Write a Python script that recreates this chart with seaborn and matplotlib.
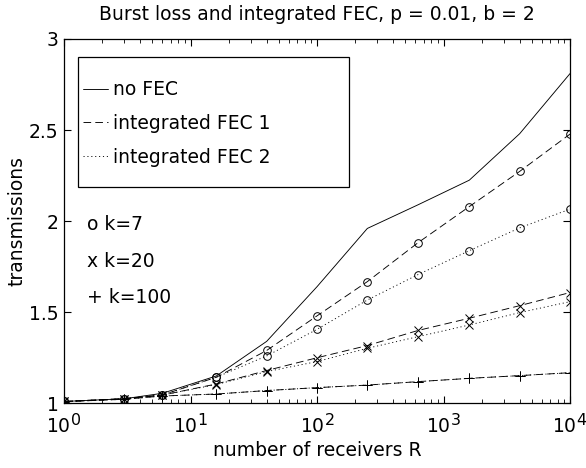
import matplotlib
matplotlib.use("Agg")
import matplotlib.pyplot as plt
import numpy as np
import pandas as pd
import seaborn as sns
from matplotlib.lines import Line2D
from matplotlib.patches import Rectangle
from matplotlib.ticker import FixedLocator, FuncFormatter, LogLocator, NullFormatter

try:
    import matplotlib._mathtext as _mt
    _mt.SHRINK_FACTOR = 0.85
except Exception:
    pass

# ---------------- data ----------------
receivers = [1, 3, 6, 16, 40, 100, 250, 630, 1600, 4000, 10000]

no_fec = [1.01, 1.025, 1.055, 1.15, 1.34, 1.64, 1.96, 2.09, 2.225, 2.48, 2.81]

fec1_k7 = [1.01, 1.025, 1.046, 1.143, 1.29, 1.48, 1.668, 1.882, 2.08, 2.273, 2.478]
fec2_k7 = [1.01, 1.025, 1.046, 1.143, 1.26, 1.406, 1.567, 1.707, 1.838, 1.963, 2.066]

fec1_k20 = [1.01, 1.025, 1.045, 1.106, 1.18, 1.25, 1.317, 1.40, 1.467, 1.536, 1.608]
fec2_k20 = [1.01, 1.025, 1.045, 1.103, 1.174, 1.229, 1.302, 1.366, 1.43, 1.498, 1.558]

fec1_k100 = [1.009, 1.022, 1.04, 1.051, 1.07, 1.086, 1.10, 1.119, 1.137, 1.152, 1.168]
fec2_k100 = [1.009, 1.022, 1.04, 1.051, 1.07, 1.086, 1.10, 1.119, 1.137, 1.152, 1.168]

y_ticks = [1, 1.5, 2, 2.5, 3]
legend_labels = ["no FEC", "integrated FEC 1", "integrated FEC 2"]
k_notes = ["o k=7", "x k=20", "+ k=100"]
title = "Burst loss and integrated FEC, p = 0.01, b = 2"
x_label = "number of receivers R"
y_label = "transmissions"

series = {
    "no FEC": no_fec,
    "FEC1 k=7": fec1_k7,
    "FEC2 k=7": fec2_k7,
    "FEC1 k=20": fec1_k20,
    "FEC2 k=20": fec2_k20,
    "FEC1 k=100": fec1_k100,
    "FEC2 k=100": fec2_k100,
}
df = pd.concat(
    [pd.DataFrame({"R": receivers, "transmissions": v, "series": k}) for k, v in series.items()],
    ignore_index=True,
)

# ---------------- style ----------------
sns.set_theme(style="ticks")
FS = 13.5
plt.rcParams.update({
    "font.family": ["DejaVu Sans"],
    "font.size": FS,
    "text.color": "black",
    "axes.labelcolor": "black",
    "xtick.color": "black",
    "ytick.color": "black",
    "axes.edgecolor": "black",
    "axes.linewidth": 0.9,
    "lines.scale_dashes": False,
    "mathtext.fontset": "dejavusans",
    "mathtext.default": "regular",
})

DASH = (0, (5.5, 3.0))
DOT = (0, (0.8, 2.0))

styles = {
    "no FEC": dict(linestyle="-", marker=None, ms=0),
    "FEC1 k=7": dict(linestyle=DASH, marker="o", ms=5.5),
    "FEC2 k=7": dict(linestyle=DOT, marker="o", ms=5.5),
    "FEC1 k=20": dict(linestyle=DASH, marker="x", ms=6),
    "FEC2 k=20": dict(linestyle=DOT, marker="x", ms=6),
    "FEC1 k=100": dict(linestyle=DASH, marker="+", ms=6.5),
    "FEC2 k=100": dict(linestyle=DOT, marker="+", ms=6.5),
}

fig = plt.figure(figsize=(5.86, 4.68), dpi=100)
ax = fig.add_axes([64 / 586, (468 - 403.3) / 468, (570 - 64) / 586, (403.3 - 39) / 468])
ax.set_xscale("log")

for name, st in styles.items():
    sub = df[df["series"] == name]
    kw = dict(color="black", linewidth=0.65, linestyle=st["linestyle"])
    if st["marker"]:
        kw.update(marker=st["marker"], markersize=st["ms"], markerfacecolor="none",
                  markeredgecolor="black", markeredgewidth=0.7)
    sns.lineplot(data=sub, x="R", y="transmissions", ax=ax, errorbar=None,
                 legend=False, **kw)

ax.set_xlim(1, 10000)
ax.set_ylim(1, 3)

ax.xaxis.set_major_locator(LogLocator(base=10, numticks=10))
ax.xaxis.set_minor_locator(LogLocator(base=10, subs=np.arange(2, 10), numticks=20))
ax.xaxis.set_minor_formatter(NullFormatter())
ax.yaxis.set_major_locator(FixedLocator(y_ticks))
ax.yaxis.set_major_formatter(FuncFormatter(lambda v, p: f"{v:g}"))

ax.tick_params(which="both", direction="in", top=True, right=True, color="black",
               labelsize=FS, labelcolor="black")
ax.tick_params(which="major", length=5, width=0.8)
ax.tick_params(which="minor", length=3, width=0.6)
ax.tick_params(axis="x", which="major", pad=7)
ax.tick_params(axis="y", which="major", pad=4)
for s in ax.spines.values():
    s.set_visible(True)
    s.set_color("black")

ax.set_title(title, fontsize=FS, pad=14, color="black")
ax.set_xlabel(x_label, fontsize=FS, labelpad=3, color="black")
ax.set_ylabel(y_label, fontsize=FS, labelpad=2, color="black")

# legend with proxy handles (no markers) and a square frame
handles = [
    Line2D([], [], color="black", linewidth=0.65, linestyle="-"),
    Line2D([], [], color="black", linewidth=0.65, linestyle=DASH),
    Line2D([], [], color="black", linewidth=0.65, linestyle=DOT),
]
axw_px, axh_px = 506, 364.3
def ax_x(px):
    return (px - 64) / axw_px
def ax_y(py):
    return (403.3 - py) / axh_px

ax.add_patch(Rectangle((ax_x(77.7), ax_y(186.5)), (349.3 - 77.7) / axw_px,
                       (186.5 - 56.7) / axh_px, transform=ax.transAxes,
                       facecolor="white", edgecolor="black", linewidth=0.9, zorder=5))
leg = ax.legend(handles, legend_labels, loc="center left",
                bbox_to_anchor=(ax_x(82.7), ax_y(123.5)), frameon=False,
                fontsize=FS, handlelength=1.37, handletextpad=0.27,
                labelspacing=0.78, borderpad=0, borderaxespad=0)
leg.set_zorder(6)
for t in leg.get_texts():
    t.set_color("black")

for txt, py in zip(k_notes, [230, 266.7, 303]):
    ax.text(ax_x(86.7), ax_y(py), txt, transform=ax.transAxes, fontsize=FS,
            va="baseline", ha="left", color="black")

fig.savefig("out.png", dpi=100, facecolor="white")
